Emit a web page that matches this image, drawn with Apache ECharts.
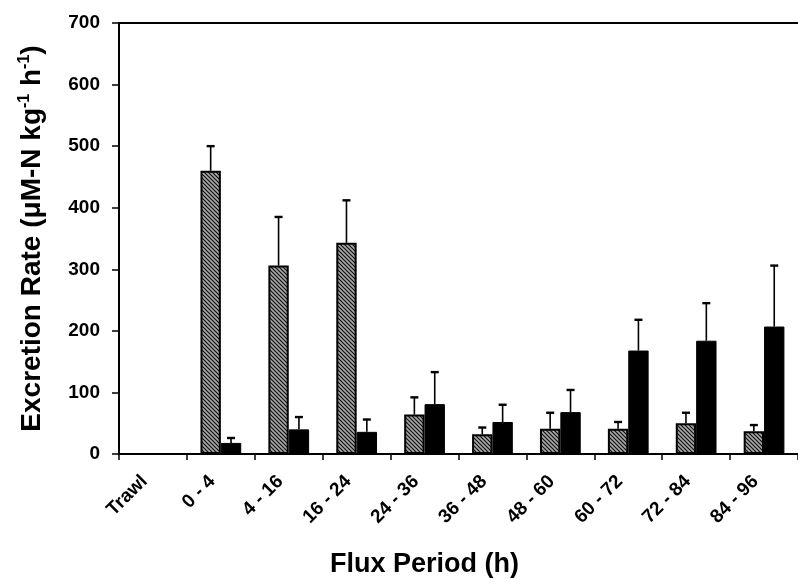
<!DOCTYPE html>
<html>
<head>
<meta charset="utf-8">
<script src="https://cdn.jsdelivr.net/npm/echarts@6/dist/echarts.min.js"></script>
<style>
  html, body { margin: 0; padding: 0; background: #fff; }
  #main { width: 798px; height: 579px; }
</style>
</head>
<body>
<div id="main"></div>
<script>
var categories = ['Trawl', '0 - 4', '4 - 16', '16 - 24', '24 - 36', '36 - 48', '48 - 60', '60 - 72', '72 - 84', '84 - 96'];
// hatched series (first bar of each pair) and its upper error
var hatchVals = [null, 460, 306, 343, 64, 32, 41, 41, 50, 37];
var hatchErr  = [null, 500, 385, 412, 92, 43, 67, 52, 67, 47];
// solid black series and its upper error
var solidVals = [null, 18, 40, 36, 81, 52, 68, 168, 184, 207];
var solidErr  = [null, 26, 60, 56, 133, 80, 104, 218, 245, 306];
var yTicks = [0, 100, 200, 300, 400, 500, 600, 700];

var FONT = '"Liberation Sans", Arial, sans-serif';

// diagonal hatch pattern
function makeHatch() {
  var c = document.createElement('canvas');
  c.width = 4; c.height = 4;
  var g = c.getContext('2d');
  g.fillStyle = '#a8a8a8';
  g.fillRect(0, 0, 4, 4);
  g.strokeStyle = '#111';
  g.lineWidth = 1.2;
  g.beginPath();
  g.moveTo(-1, -1); g.lineTo(5, 5);
  g.moveTo(-1, 3); g.lineTo(1, 5);
  g.moveTo(3, -1); g.lineTo(5, 1);
  g.stroke();
  return c;
}

var chart = echarts.init(document.getElementById('main'), null, { renderer: 'canvas' });

var BAR_FRAC = 0.3;

function errData(vals, errs) {
  var out = [];
  for (var i = 0; i < vals.length; i++) {
    if (vals[i] == null) continue;
    out.push([i, vals[i], errs[i]]);
  }
  return out;
}

function errRender(side) {
  return function (params, api) {
    var idx = api.value(0);
    var bw = api.size([1, 0])[0] * BAR_FRAC;
    var base = api.coord([idx, api.value(1)]);
    var top = api.coord([idx, api.value(2)]);
    var x = base[0] + side * bw / 2;
    return {
      type: 'group',
      children: [
        { type: 'line', shape: { x1: x, y1: base[1], x2: x, y2: top[1] }, style: { stroke: '#000', lineWidth: 1.6 } },
        { type: 'line', shape: { x1: x - 4, y1: top[1], x2: x + 4, y2: top[1] }, style: { stroke: '#000', lineWidth: 2.4 } }
      ]
    };
  };
}

var option = {
  backgroundColor: '#fff',
  animation: false,
  grid: { left: 119, top: 23, right: -9, bottom: 125 },
  xAxis: [{
    type: 'category',
    data: categories,
    axisLine: { lineStyle: { color: '#000', width: 2 } },
    axisTick: { show: true, length: 6, lineStyle: { color: '#000', width: 1.5 } },
    axisLabel: {
      interval: 0, rotate: 45, margin: 16, padding: [0, 12, 0, 0],
      color: '#000', fontFamily: FONT, fontSize: 19, fontWeight: 'bold'
    }
  }, {
    type: 'category',
    position: 'top',
    data: categories,
    axisLine: { onZero: false, lineStyle: { color: '#000', width: 2 } },
    axisTick: { show: false },
    axisLabel: { show: false }
  }],
  yAxis: {
    type: 'value',
    min: 0, max: 700, interval: 100,
    name: 'Excretion Rate (μM-N kg{sup|-1} h{sup|-1})',
    nameLocation: 'middle',
    nameGap: 72,
    nameTextStyle: {
      color: '#000', fontFamily: FONT, fontSize: 28, fontWeight: 'bold',
      rich: {
        sup: { fontSize: 16, fontWeight: 'bold', fontFamily: FONT, color: '#000', padding: [0, 0, 14, 0] }
      }
    },
    axisLine: { show: true, lineStyle: { color: '#000', width: 2 } },
    axisTick: { show: true, length: 7, lineStyle: { color: '#000', width: 1.5 } },
    splitLine: { show: false },
    axisLabel: {
      margin: 19,
      color: '#000', fontFamily: FONT, fontSize: 19, fontWeight: 'bold',
      formatter: function (v) { return yTicks.indexOf(v) >= 0 ? String(v) : ''; }
    }
  },
  graphic: [{
    type: 'text',
    left: 330, top: 551,
    style: { text: 'Flux Period (h)', fill: '#000', font: 'bold 27px ' + FONT }
  }],
  series: [{
    name: 'hatched',
    type: 'bar',
    data: hatchVals,
    barWidth: '30%',
    barGap: '0%',
    itemStyle: {
      color: { image: makeHatch(), repeat: 'repeat' },
      borderColor: '#000', borderWidth: 2
    }
  }, {
    name: 'solid',
    type: 'bar',
    data: solidVals,
    barWidth: '30%',
    barGap: '0%',
    itemStyle: { color: '#000', borderColor: '#000', borderWidth: 1 }
  }, {
    type: 'custom',
    renderItem: errRender(-1),
    data: errData(hatchVals, hatchErr),
    encode: { x: 0, y: [1, 2] },
    z: 3
  }, {
    type: 'custom',
    renderItem: errRender(1),
    data: errData(solidVals, solidErr),
    encode: { x: 0, y: [1, 2] },
    z: 3
  }]
};

chart.setOption(option);
</script>
</body>
</html>
